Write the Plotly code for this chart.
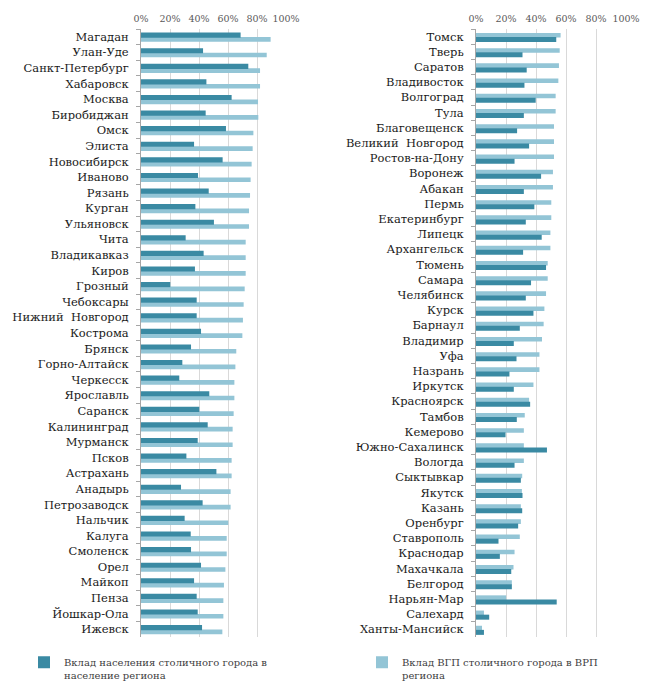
import plotly.graph_objects as go

# Left panel
cities_left = ["Магадан", "Улан-Уде", "Санкт-Петербург", "Хабаровск", "Москва", "Биробиджан",
               "Омск", "Элиста", "Новосибирск", "Иваново", "Рязань", "Курган", "Ульяновск",
               "Чита", "Владикавказ", "Киров", "Грозный", "Чебоксары", "Нижний  Новгород",
               "Кострома", "Брянск", "Горно-Алтайск", "Черкесск", "Ярославль", "Саранск",
               "Калининград", "Мурманск", "Псков", "Астрахань", "Анадырь", "Петрозаводск",
               "Нальчик", "Калуга", "Смоленск", "Орел", "Майкоп", "Пенза", "Йошкар-Ола", "Ижевск"]
pop_left = [68.7, 42.8, 74.0, 45.1, 62.5, 44.6, 58.6, 36.6, 56.3, 39.3, 46.7, 37.5, 50.3,
            30.8, 43.2, 37.2, 20.2, 38.4, 38.4, 41.4, 34.5, 28.5, 26.4, 47.1, 40.2,
            46.0, 39.1, 31.3, 52.0, 27.6, 42.5, 30.1, 34.3, 34.5, 41.4, 36.6, 38.4, 39.1, 42.1]
grp_left = [89.4, 86.7, 82.1, 82.1, 80.7, 80.9, 77.5, 77.0, 76.3, 75.6, 75.2, 74.5, 74.5,
            72.2, 72.2, 72.2, 71.5, 70.8, 70.3, 69.9, 65.7, 65.1, 64.4, 64.4, 63.9,
            63.2, 63.2, 62.5, 62.5, 61.8, 61.8, 60.2, 59.1, 59.1, 58.2, 57.2, 56.8, 56.8, 56.1]

# Right panel
cities_right = ["Томск", "Тверь", "Саратов", "Владивосток", "Волгоград", "Тула", "Благовещенск",
                "Великий  Новгород", "Ростов-на-Дону", "Воронеж", "Абакан", "Пермь",
                "Екатеринбург", "Липецк", "Архангельск", "Тюмень", "Самара", "Челябинск",
                "Курск", "Барнаул", "Владимир", "Уфа", "Назрань", "Иркутск", "Красноярск",
                "Тамбов", "Кемерово", "Южно-Сахалинск", "Вологда", "Сыктывкар", "Якутск",
                "Казань", "Оренбург", "Ставрополь", "Краснодар", "Махачкала", "Белгород",
                "Нарьян-Мар", "Салехард", "Ханты-Мансийск"]
grp_right = [56.4, 55.8, 55.3, 54.9, 53.1, 53.1, 52.0, 52.0, 52.0, 51.3, 51.3, 50.2,
             50.2, 49.6, 49.6, 47.8, 47.8, 46.7, 45.6, 45.1, 44.0, 42.3, 42.3, 38.3, 35.4,
             32.5, 31.9, 31.9, 31.9, 30.8, 30.6, 29.9, 29.9, 29.2, 25.7, 25.0, 23.9,
             20.1, 5.3, 4.0]
pop_right = [53.5, 31.0, 33.8, 32.3, 39.8, 31.9, 27.4, 35.4, 25.7, 43.4, 31.9, 38.9,
             33.2, 43.8, 31.4, 46.7, 36.7, 33.2, 38.3, 29.2, 25.2, 27.0, 22.3, 25.2, 36.1,
             27.2, 19.7, 47.3, 25.7, 29.9, 31.0, 30.8, 28.1, 15.0, 15.9, 23.5, 23.9,
             53.8, 8.8, 5.3]

name_pop = "Вклад населения столичного города в<br>население региона"
name_grp = "Вклад ВГП столичного города в ВРП<br>региона"

DARK = "#3a8aa3"
LIGHT = "#93c5d6"

fig = go.Figure()

# Left panel: dark bar on top, light bar below
fig.add_trace(go.Bar(y=cities_left, x=grp_left, orientation="h", name=name_grp,
                     marker=dict(color=LIGHT, line=dict(width=0)),
                     offset=0.02, width=0.30, xaxis="x", yaxis="y",
                     showlegend=False))
fig.add_trace(go.Bar(y=cities_left, x=pop_left, orientation="h", name=name_pop,
                     marker=dict(color=DARK, line=dict(width=0)),
                     offset=-0.27, width=0.33, xaxis="x", yaxis="y",
                     legend="legend", showlegend=True))

# Right panel: light bar on top, dark bar below
fig.add_trace(go.Bar(y=cities_right, x=grp_right, orientation="h", name=name_grp,
                     marker=dict(color=LIGHT, line=dict(width=0)),
                     offset=-0.24, width=0.30, xaxis="x2", yaxis="y2",
                     legend="legend2", showlegend=True))
fig.add_trace(go.Bar(y=cities_right, x=pop_right, orientation="h", name=name_pop,
                     marker=dict(color=DARK, line=dict(width=0)),
                     offset=0.03, width=0.33, xaxis="x2", yaxis="y2",
                     showlegend=False))

xcommon = dict(side="top", range=[0, 100], dtick=20, ticksuffix="%",
               showgrid=True, gridcolor="#d9d9d9", gridwidth=1, zeroline=False,
               showline=False, ticks="", automargin=False, ticklabelstandoff=4,
               tickfont=dict(family="DejaVu Serif", size=9.5, color="#595959"),
               fixedrange=True)
ycommon = dict(type="category", autorange="reversed", showline=True, linecolor="#a6a6a6",
               linewidth=1, ticks="outside", ticklen=4, tickcolor="#a6a6a6",
               tickson="boundaries", showgrid=False, ticklabelstandoff=9, automargin=False,
               tickfont=dict(family="DejaVu Serif", size=11.5, color="#1a1a1a"),
               domain=[0, 1])

fig.update_layout(
    template="none",
    width=650, height=687,
    margin=dict(l=0, r=0, t=21, b=58, pad=0),
    paper_bgcolor="white", plot_bgcolor="white",
    barmode="overlay",
    xaxis=dict(domain=[133 / 650, 278 / 650], anchor="y", **xcommon),
    yaxis=dict(anchor="x", **ycommon),
    xaxis2=dict(domain=[468 / 650, 618 / 650], anchor="y2", **xcommon),
    yaxis2=dict(anchor="x2", **ycommon),
    legend=dict(x=16 / 650, y=-0.020, xanchor="left", yanchor="top", valign="top",
                font=dict(family="DejaVu Serif", size=10, color="#404040"),
                bgcolor="rgba(0,0,0,0)", itemwidth=30),
    legend2=dict(x=354 / 650, y=-0.020, xanchor="left", yanchor="top", valign="top",
                 font=dict(family="DejaVu Serif", size=10, color="#404040"),
                 bgcolor="rgba(0,0,0,0)", itemwidth=30),
)

fig.write_html("out.html")
